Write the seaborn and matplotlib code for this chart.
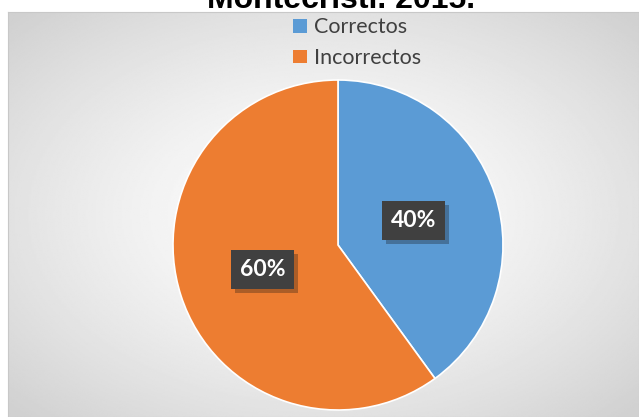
import numpy as np
import matplotlib
matplotlib.use("Agg")
import matplotlib.pyplot as plt
import matplotlib.patheffects as pe
from matplotlib.patches import Patch
import seaborn as sns

# data
categories = ["Correctos", "Incorrectos"]
values = [40, 60]
colors = ["#5B9BD5", "#ED7D31"]
title = "Montecristi. 2015."

sns.set_theme(style="white")
plt.rcParams["font.family"] = ["Lato", "DejaVu Sans"]

W, H = 639, 417
fig = plt.figure(figsize=(W / 100, H / 100), dpi=100)
fig.patch.set_facecolor("white")

# chart area with a soft radial gradient, cut off at right/bottom like the source
bg = fig.add_axes([8 / W, 0, 1 - 8 / W, (H - 12) / H])
yy, xx = np.mgrid[-1:1:300j, -1:1:400j]
rr = np.clip(np.sqrt(xx ** 2 * 0.9 + yy ** 2 * 0.9), 0, 1.3)
shade = 1 - 0.18 * (rr / 1.3) ** 1.4
bg.imshow(shade, cmap="gray", vmin=0, vmax=1, aspect="auto",
          extent=(0, 1, 0, 1), interpolation="bilinear")
bg.set_xticks([])
bg.set_yticks([])
for s in bg.spines.values():
    s.set_color("#c8c8c8")
    s.set_linewidth(0.8)

# pie
cx, cy, r = 338, 245, 165
ax = fig.add_axes([(cx - r) / W, (H - cy - r) / H, 2 * r / W, 2 * r / H])
ax.set_facecolor("none")
wedges, texts, autotexts = ax.pie(
    values, colors=colors, startangle=90, counterclock=False,
    autopct="%1.0f%%", pctdistance=0.48,
    wedgeprops=dict(edgecolor="white", linewidth=1.2),
    textprops=dict(color="white", fontsize=16.5, fontweight="bold"),
)
ax.set_xlim(-1, 1)
ax.set_ylim(-1, 1)
ax.set_aspect("equal")
ax.axis("off")

for t in autotexts:
    t.set_bbox(dict(boxstyle="square,pad=0.38", facecolor="#404040",
                    edgecolor="none"))
    t.get_bbox_patch().set_path_effects(
        [pe.SimplePatchShadow(offset=(3, -3), alpha=0.3), pe.Normal()])

# legend
handles = [Patch(facecolor=c, edgecolor="none") for c in colors]
fig.legend(handles, categories, loc="upper left",
           bbox_to_anchor=(289 / W, (H - 13) / H), frameon=False,
           fontsize=15.5, handlelength=0.62, handleheight=0.62,
           handletextpad=0.35, labelspacing=0.5, borderpad=0.2,
           borderaxespad=0, labelcolor="#404040")

fig.text(341 / W, 1 - 8 / H, title, ha="center", va="baseline",
         fontsize=23, fontweight="bold", color="black",
         family=["Liberation Sans", "DejaVu Sans"])

fig.savefig("out.png", dpi=100)
